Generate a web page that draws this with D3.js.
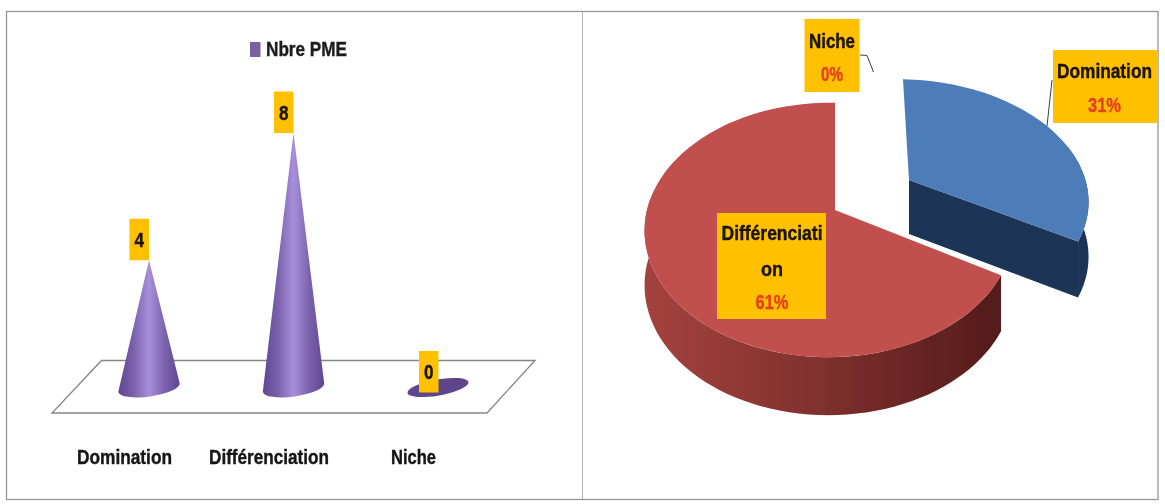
<!DOCTYPE html>
<html><head><meta charset="utf-8">
<script src="https://cdn.jsdelivr.net/npm/d3@7/dist/d3.min.js"></script>
<style>
html,body{margin:0;padding:0;background:#fff;overflow:hidden}
svg{display:block}
text{font-family:"Liberation Sans",Arial,sans-serif;font-weight:700}
</style></head><body>
<svg id="c" width="1165" height="504"></svg>
<script>
// ---- data ----
const categories = ["Domination", "Différenciation", "Niche"];
const nbrePME = [4, 8, 0];
const pieLabelLines = [["Domination"], ["Différenciati", "on"], ["Niche"]];
const piePercent = ["31%", "61%", "0%"];
const legendLabel = "Nbre PME";

// ---- layout / styles ----
const W = 1165, H = 504;
const svg = d3.select("#c");
const defs = svg.append("defs");
const soft = defs.append("filter").attr("id","soft").attr("x","-5%").attr("y","-5%").attr("width","110%").attr("height","110%");
soft.append("feGaussianBlur").attr("stdDeviation",0.6);
function grad(id, stops, units){
  const g = defs.append("linearGradient").attr("id",id);
  if(units){ g.attr("gradientUnits","userSpaceOnUse").attr("x1",units[0]).attr("x2",units[1]).attr("y1",0).attr("y2",0); }
  stops.forEach(s=>g.append("stop").attr("offset",s[0]).attr("stop-color",s[1]));
}
grad("cone",[[0,"#5e4692"],[0.25,"#7c62ad"],[0.5,"#a78fdb"],[0.75,"#7d63ad"],[1,"#5e4692"]]);
grad("redWall",[[0,"#a4423f"],[0.45,"#83322f"],[1,"#531b1a"]],[645,1002]);

const root = svg.append("g").attr("filter","url(#soft)");
root.append("rect").attr("x",0).attr("y",0).attr("width",W).attr("height",H).attr("fill","#fff");
root.append("rect").attr("x",6.5).attr("y",11.5).attr("width",1151.5).attr("height",488).attr("fill","none").attr("stroke","#959595").attr("stroke-width",1.3);
root.append("line").attr("x1",582.5).attr("x2",582.5).attr("y1",12).attr("y2",499).attr("stroke","#b4b4b4");

function label(g, str, cx, cy, size, width, fill, sy){
  const sc = sy||1.18;
  return g.append("text").attr("transform",`translate(${cx},${cy}) scale(1,${sc})`)
    .attr("text-anchor","middle").attr("dominant-baseline","central")
    .attr("font-size",size).attr("fill",fill||"#141414")
    .attr("stroke",fill||"#141414").attr("stroke-width",0.35)
    .attr("textLength",width).attr("lengthAdjust","spacingAndGlyphs").text(str);
}

// ---- left chart: cones ----
const left = root.append("g");
const floorPts = [[101.5,360.5],[535,360.5],[487,413],[52,413]];
left.append("path").attr("d",d3.line()(floorPts)+"Z").attr("fill","#fff").attr("stroke","#858585").attr("stroke-width",1.3);

const x = d3.scalePoint().domain(categories).range([149,438]);
const y = d3.scaleLinear().domain([0,8]).range([387.5,133]);
const baseRx = 31, baseRy = 9, baseTilt = -8;

categories.forEach((c,i)=>{
  const v = nbrePME[i], cx = x(c), by = y(0), ty = y(v);
  const t = baseTilt*Math.PI/180;
  const lx = cx-baseRx*Math.cos(t), ly = by-baseRx*Math.sin(t);
  const rx = cx+baseRx*Math.cos(t), ry = by+baseRx*Math.sin(t);
  if(v>0){
    left.append("path")
      .attr("d",`M${cx},${ty}L${lx},${ly}A${baseRx},${baseRy} ${baseTilt} 0 0 ${rx},${ry}Z`)
      .attr("fill","url(#cone)");
  } else {
    left.append("ellipse").attr("rx",baseRx).attr("ry",baseRy-1)
      .attr("transform",`translate(${cx},${by}) rotate(-10)`).attr("fill","#5f4589");
  }
});

// value labels
const valW = 19.5, valH = 41.5;
categories.forEach((c,i)=>{
  const v = nbrePME[i], cx = x(c), top = (v>0 ? y(v) : y(0)+5) - valH;
  const bx = cx - valW - (v>0?0:-0.5);
  left.append("rect").attr("x",bx).attr("y",top).attr("width",valW).attr("height",valH).attr("fill","#ffc000");
  label(left,String(v),bx+valW/2,top+valH/2,18,9.5,"#1a1208",1.15);
});

// category axis, offset to the front edge of the floor
const axisG = left.append("g").attr("transform","translate(-25,457)")
  .call(d3.axisBottom(x).tickSize(0).tickPadding(0));
axisG.select(".domain").remove();
const tickW = [95,120,45];
axisG.selectAll(".tick text").remove();
axisG.selectAll(".tick").each(function(d,i){
  label(d3.select(this),d,0,0,18,tickW[i],"#141414",1.15);
});

// legend
left.append("rect").attr("x",250).attr("y",42).attr("width",10.5).attr("height",15).attr("fill","#7a609f");
label(left,legendLabel,306.5,49,17,81,"#1e1e1e",1.15);

// ---- right chart: 3D pie ----
const right = root.append("g");
const pie = d3.pie().sort(null).value(d=>d)(nbrePME);
const pcx = 835, pcy = 210, A = 124, B = 182, p = 0.157, q = 0.032;
// per-slice screen shift, scale and shear for the exploded piece
const sliceShift = [{dx:74,dy:-30,sx:1.0,sy:0.94,sh:6},{dx:0,dy:0,sx:1,sy:1,sh:0},{dx:0,dy:0,sx:1,sy:1,sh:0}];
function project(X,Y,s){
  const w = 1 - p*Y + q*X;
  return [pcx + s.dx + s.sx*X*B/w + s.sh*Y, pcy + s.dy + s.sy*Y*A/w];
}
const depth = Y => 54 + 4*Y;
const sliceColors = ["#4d7db8","#c0504d","#9bbb59"];
const lineGen = d3.line();

function rim(from, to, n){
  return d3.range(n+1).map(k=>{
    const th = from+(to-from)*k/n;
    return [Math.sin(th), -Math.cos(th)];
  });
}
const down = (pts,s) => pts.map(u=>{ const P=project(u[0],u[1],s); return [P[0],P[1]+depth(u[1])]; });
const up = (pts,s) => pts.map(u=>project(u[0],u[1],s));

const domSlice = pie[0], difSlice = pie[1];
// red outer wall then face
{
  const s = sliceShift[1];
  const r = rim(difSlice.startAngle, difSlice.startAngle + (difSlice.endAngle-difSlice.startAngle)*0.645, 60);
  right.append("path").attr("d",lineGen(up(r,s).concat(down(r,s).reverse()))+"Z").attr("fill","url(#redWall)");
  const f = rim(difSlice.startAngle, difSlice.endAngle, 120);
  f.push([0,0]);
  right.append("path").attr("d",lineGen(up(f,s))+"Z").attr("fill",sliceColors[1]);
}
// blue: inner wall, outer wall, face
{
  const s = sliceShift[0];
  const e = rim(domSlice.endAngle, domSlice.endAngle, 1).slice(0,1).concat([[0,0]]);
  right.append("path").attr("d",lineGen(up(e,s).concat(down(e,s).reverse()))+"Z").attr("fill","#1d3557");
  const r = rim(domSlice.startAngle+(domSlice.endAngle-domSlice.startAngle)*0.6, domSlice.endAngle, 30);
  right.append("path").attr("d",lineGen(up(r,s).concat(down(r,s).reverse()))+"Z").attr("fill","#1d3557");
  const f = rim(domSlice.startAngle, domSlice.endAngle, 60);
  f.push([0,0]);
  right.append("path").attr("d",lineGen(up(f,s))+"Z").attr("fill",sliceColors[0]);
}

// leader lines
const leaders = [[[1052,80],[1047,126]],[[860,55],[867,55.5],[873.5,72]]];
leaders.forEach(l=>right.append("path").attr("d",lineGen(l)).attr("fill","none").attr("stroke","#33414f").attr("stroke-width",1));

// data label boxes
const boxes = [
  {x:1053,y:50,w:105,h:73,cx:1104.5,ly:[71],py:105,tw:[95]},
  {x:717,y:213,w:109,h:106,cx:772,ly:[233,269],py:302,tw:[101,22]},
  {x:804.5,y:19,w:55,h:73,cx:832,ly:[41],py:74,tw:[46]}
];
boxes.forEach((b,i)=>{
  right.append("rect").attr("x",b.x).attr("y",b.y).attr("width",b.w).attr("height",b.h).attr("fill","#ffc000");
  pieLabelLines[i].forEach((t,j)=>label(right,t,b.cx,b.ly[j],18,b.tw[j],"#1a1208",1.15));
  label(right,piePercent[i],b.cx,b.py,17,i==2?22:33,"#e5401a",1.15);
});
</script>
</body></html>
